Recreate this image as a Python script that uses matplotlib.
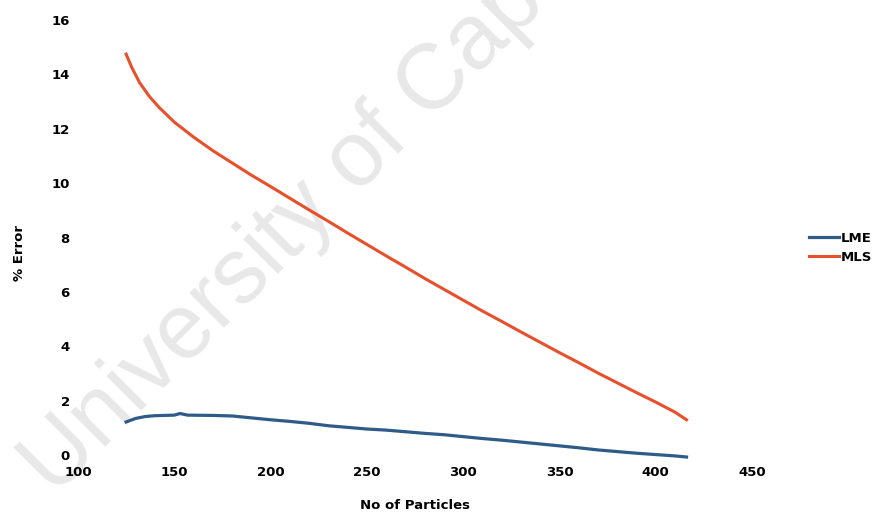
import matplotlib.pyplot as plt

# LME / MLS error vs number of particles
x_lme = [125, 130, 135, 140, 150, 153, 157, 170, 180, 190, 200, 210, 220, 230, 240, 250, 260,
         270, 280, 290, 300, 310, 320, 330, 340, 350, 360, 370, 380, 390, 400, 410, 416]
y_lme = [1.22, 1.35, 1.42, 1.45, 1.47, 1.53, 1.47, 1.46, 1.44, 1.37, 1.30, 1.24, 1.17, 1.08, 1.02, 0.96, 0.92,
         0.86, 0.80, 0.75, 0.68, 0.61, 0.55, 0.48, 0.41, 0.34, 0.27, 0.19, 0.13, 0.07, 0.02, -0.03, -0.07]

x_mls = [125, 128, 132, 137, 142, 150, 160, 170, 180, 190, 200, 210, 220, 230, 240, 250, 260,
         270, 280, 290, 300, 310, 320, 330, 340, 350, 360, 370, 380, 390, 400, 410, 416]
y_mls = [14.75, 14.25, 13.7, 13.2, 12.8, 12.25, 11.7, 11.2, 10.75, 10.3, 9.88, 9.45, 9.02, 8.6, 8.17, 7.75, 7.33,
         6.92, 6.5, 6.1, 5.7, 5.3, 4.92, 4.53, 4.15, 3.77, 3.4, 3.02, 2.66, 2.3, 1.95, 1.58, 1.3]

xticks = [100, 150, 200, 250, 300, 350, 400, 450]
yticks = [0, 2, 4, 6, 8, 10, 12, 14, 16]

plt.rcParams['font.family'] = 'DejaVu Sans'
plt.rcParams['font.weight'] = 'bold'

fig = plt.figure(figsize=(8.78, 5.16), dpi=100)
ax = fig.add_axes([0.0888, 0.118, 0.7677, 0.843])
ax.patch.set_visible(False)

# watermark
fig.text(0.062, 0.035, "University of Cape Town", fontsize=66, color='#e8e8e8',
         family='Liberation Sans', weight='normal', rotation=45, rotation_mode='anchor',
         ha='left', va='baseline', zorder=-5)

ax.plot(x_lme, y_lme, color='#2e5b88', lw=2.3, label='LME', clip_on=False)
ax.plot(x_mls, y_mls, color='#e8502c', lw=2.2, label='MLS', clip_on=False)

ax.set_xlim(100, 450)
ax.set_ylim(0, 16)
ax.set_xticks(xticks)
ax.set_yticks(yticks)
ax.tick_params(length=0, labelsize=9.5)
ax.tick_params(axis='x', pad=8)
ax.tick_params(axis='y', pad=6)
for s in ax.spines.values():
    s.set_visible(False)

ax.set_xlabel('No of Particles', fontsize=9.5, fontweight='bold', labelpad=14)
fig.text(0.022, 0.51, '% Error', fontsize=9.5, fontweight='bold', rotation=90, ha='center', va='center')

fig.legend(loc='center left', bbox_to_anchor=(0.915, 0.52), frameon=False, fontsize=9.5,
           handlelength=2.3, handletextpad=0.1, labelspacing=0.45, borderaxespad=0)

plt.savefig('out.png')
